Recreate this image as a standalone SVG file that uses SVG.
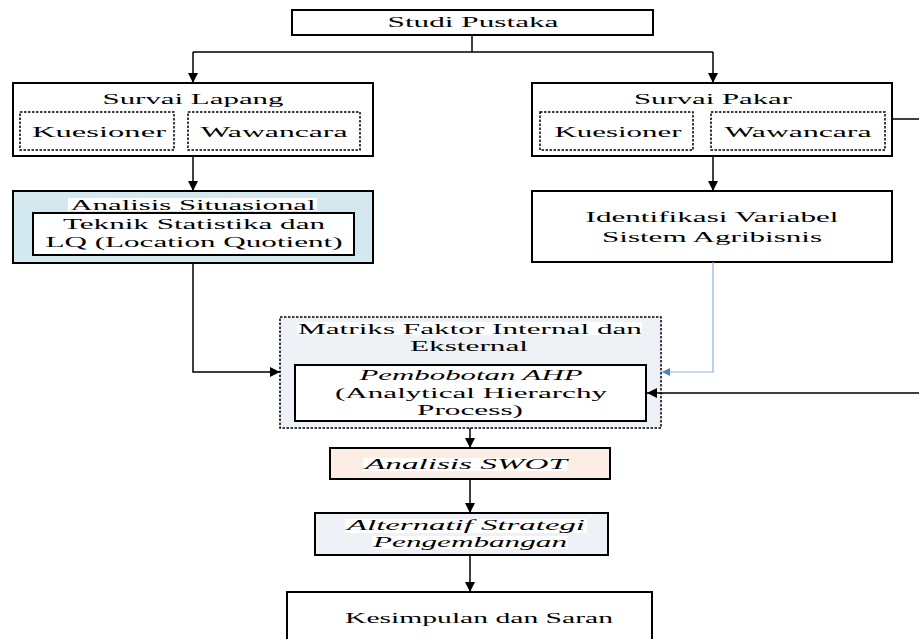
<svg xmlns="http://www.w3.org/2000/svg" width="919" height="639" viewBox="0 0 919 639">
  <defs>
    <marker id="arrow" viewBox="0 0 10 10" refX="10" refY="5" markerWidth="10" markerHeight="10" markerUnits="userSpaceOnUse" orient="auto">
      <path d="M0,0 L10,5 L0,10 z" fill="#000"/>
    </marker>
    <marker id="arrow-blue" viewBox="0 0 10 10" refX="10" refY="5" markerWidth="10" markerHeight="8" markerUnits="userSpaceOnUse" orient="auto">
      <path d="M0,0 L10,5 L0,10 z" fill="#4F81BD"/>
    </marker>
  </defs>
  <style>
    .box { fill: #fff; stroke: #000; stroke-width: 2; }
    .dot { fill: #fff; stroke: #000; stroke-width: 1.5; stroke-dasharray: 2.5 1.5; }
    .t { font-family: "Liberation Serif", "Times New Roman", serif; font-size: 14.5px; fill: #000; text-anchor: middle; }
    .i { font-style: italic; }
    .hl { fill: #fff; }
    .edge { fill: none; stroke: #000; stroke-width: 1.5; }
    .edge-blue { fill: none; stroke: #8DB3E2; stroke-width: 1.2; }
  </style>
  <rect width="919" height="639" fill="#fff"/>

  <g id="studi-pustaka">
    <rect class="box" x="292" y="10" width="361" height="25"/>
    <text class="t" x="473" y="27" textLength="171" lengthAdjust="spacingAndGlyphs">Studi Pustaka</text>
  </g>

  <g id="survai-lapang">
    <rect class="box" x="13" y="83" width="360" height="73"/>
    <text class="t" x="193" y="104" textLength="181" lengthAdjust="spacingAndGlyphs">Survai Lapang</text>
    <rect class="dot" x="20" y="112" width="154" height="38"/>
    <text class="t" x="99" y="137" textLength="134" lengthAdjust="spacingAndGlyphs">Kuesioner</text>
    <rect class="dot" x="188" y="112" width="172" height="38"/>
    <text class="t" x="274" y="137" textLength="147" lengthAdjust="spacingAndGlyphs">Wawancara</text>
  </g>

  <g id="analisis-situasional">
    <rect class="box" x="13" y="191" width="360" height="72" style="fill:#D3E9EF"/>
    <rect class="hl" x="68" y="198" width="249" height="13"/>
    <text class="t" x="193" y="210" textLength="245" lengthAdjust="spacingAndGlyphs">Analisis Situasional</text>
    <rect class="box" x="33" y="213" width="321" height="42"/>
    <text class="t" x="194" y="229" textLength="262" lengthAdjust="spacingAndGlyphs">Teknik Statistika dan</text>
    <text class="t" x="194" y="247" textLength="297" lengthAdjust="spacingAndGlyphs">LQ (Location Quotient)</text>
  </g>

  <g id="survai-pakar">
    <rect class="box" x="532" y="83" width="360" height="73"/>
    <text class="t" x="713" y="104" textLength="158" lengthAdjust="spacingAndGlyphs">Survai Pakar</text>
    <rect class="dot" x="540" y="112" width="153" height="38"/>
    <text class="t" x="618" y="137" textLength="127" lengthAdjust="spacingAndGlyphs">Kuesioner</text>
    <rect class="dot" x="711" y="112" width="174" height="38"/>
    <text class="t" x="798" y="137" textLength="147" lengthAdjust="spacingAndGlyphs">Wawancara</text>
  </g>

  <g id="identifikasi-variabel">
    <rect class="box" x="532" y="191" width="360" height="71"/>
    <text class="t" x="712" y="222" textLength="253" lengthAdjust="spacingAndGlyphs">Identifikasi Variabel</text>
    <text class="t" x="712" y="242" textLength="220" lengthAdjust="spacingAndGlyphs">Sistem Agribisnis</text>
  </g>

  <g id="matriks-faktor">
    <rect x="280" y="317" width="381" height="111" fill="#EEF1F6" stroke="#000" stroke-width="1.5" stroke-dasharray="2.5 1.5"/>
    <rect class="hl" x="297" y="322" width="345" height="13"/>
    <text class="t" x="470" y="334" textLength="344" lengthAdjust="spacingAndGlyphs">Matriks Faktor Internal dan</text>
    <text class="t" x="469" y="351" textLength="118" lengthAdjust="spacingAndGlyphs">Eksternal</text>
    <rect class="box" x="295" y="365" width="351" height="56"/>
    <text class="t i" x="471" y="380" textLength="223" lengthAdjust="spacingAndGlyphs">Pembobotan AHP</text>
    <text class="t" x="471" y="398" textLength="272" lengthAdjust="spacingAndGlyphs">(Analytical Hierarchy</text>
    <text class="t" x="470" y="415" textLength="106" lengthAdjust="spacingAndGlyphs">Process)</text>
  </g>

  <g id="analisis-swot">
    <rect class="box" x="330" y="448" width="280" height="31" style="fill:#FBEDE4"/>
    <rect class="hl" x="363" y="458" width="205" height="13"/>
    <text class="t i" x="466" y="469" textLength="202" lengthAdjust="spacingAndGlyphs">Analisis SWOT</text>
  </g>

  <g id="alternatif-strategi">
    <rect class="box" x="315" y="513" width="293" height="42" style="fill:#EEF1F6"/>
    <rect class="hl" x="345" y="519" width="242" height="14"/>
    <rect class="hl" x="372" y="536" width="196" height="13"/>
    <text class="t i" x="466" y="530" textLength="238" lengthAdjust="spacingAndGlyphs">Alternatif Strategi</text>
    <text class="t i" x="470" y="547" textLength="194" lengthAdjust="spacingAndGlyphs">Pengembangan</text>
  </g>

  <g id="kesimpulan-saran">
    <rect class="box" x="287" y="592" width="365" height="60"/>
    <text class="t" x="479" y="623" textLength="268" lengthAdjust="spacingAndGlyphs">Kesimpulan dan Saran</text>
  </g>

  <!-- connectors drawn last so arrowheads stay on top of box fills -->
  <g id="connectors">
    <path class="edge" d="M472,35 V52 M193,52 H713"/>
    <path class="edge" d="M193,52 V83" marker-end="url(#arrow)"/>
    <path class="edge" d="M713,52 V83" marker-end="url(#arrow)"/>
    <path class="edge" d="M193,156 V191" marker-end="url(#arrow)"/>
    <path class="edge" d="M713,156 V191" marker-end="url(#arrow)"/>
    <path class="edge" d="M193,263 V372 H280" marker-end="url(#arrow)"/>
    <path class="edge-blue" d="M713,262 V372 H662" marker-end="url(#arrow-blue)"/>
    <path class="edge" d="M892,119 H935 V393 H647" marker-end="url(#arrow)"/>
    <path class="edge" d="M470,428 V448" marker-end="url(#arrow)"/>
    <path class="edge" d="M470,479 V513" marker-end="url(#arrow)"/>
    <path class="edge" d="M470,555 V592" marker-end="url(#arrow)"/>
  </g>
</svg>
